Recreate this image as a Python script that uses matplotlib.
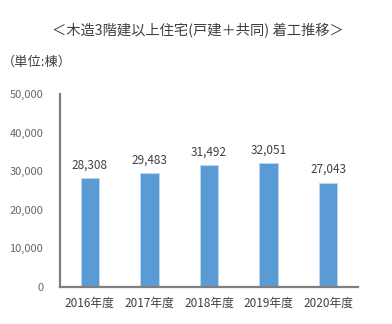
import matplotlib
matplotlib.use("Agg")
import matplotlib.pyplot as plt

plt.rcParams['font.family'] = ['Noto Sans CJK JP', 'DejaVu Sans']

years = ["2016年度", "2017年度", "2018年度", "2019年度", "2020年度"]
starts = [28308, 29483, 31492, 32051, 27043]
yticks = [0, 10000, 20000, 30000, 40000, 50000]

fig = plt.figure(figsize=(3.92, 3.24), dpi=100)
ax = fig.add_axes([0.153, 0.114, 0.760, 0.596])

x = list(range(len(years)))
bars = ax.bar(x, starts, width=0.31, color="#5B9BD5", edgecolor="#BDD7EE", linewidth=0.6)

for b, v in zip(bars, starts):
    ax.text(b.get_x() + b.get_width() / 2, v + 1700, f"{v:,}",
            ha="center", va="bottom", fontsize=8.5, color="#404040")

ax.set_xlim(-0.5, len(years) - 0.5)
ax.set_ylim(0, 50000)
ax.set_yticks(yticks)
ax.set_yticklabels([f"{t:,}" for t in yticks], fontsize=8, color="#666666")
ax.set_xticks(x)
ax.set_xticklabels(years, fontsize=8.5, color="#404040")
ax.tick_params(length=0, pad=12, axis="y")
ax.tick_params(length=0, pad=7, axis="x")

for s in ["top", "right"]:
    ax.spines[s].set_visible(False)
for s in ["left", "bottom"]:
    ax.spines[s].set_color("#7F7F7F")
    ax.spines[s].set_linewidth(1.6)

fig.text(0.505, 0.905, "＜木造3階建以上住宅(戸建＋共同) 着工推移＞",
         ha="center", va="center", fontsize=10.3, color="#404040")
fig.text(0.005, 0.808, "（単位:棟）", ha="left", va="center", fontsize=9.5, color="#404040")

fig.savefig("out.png", dpi=100)
